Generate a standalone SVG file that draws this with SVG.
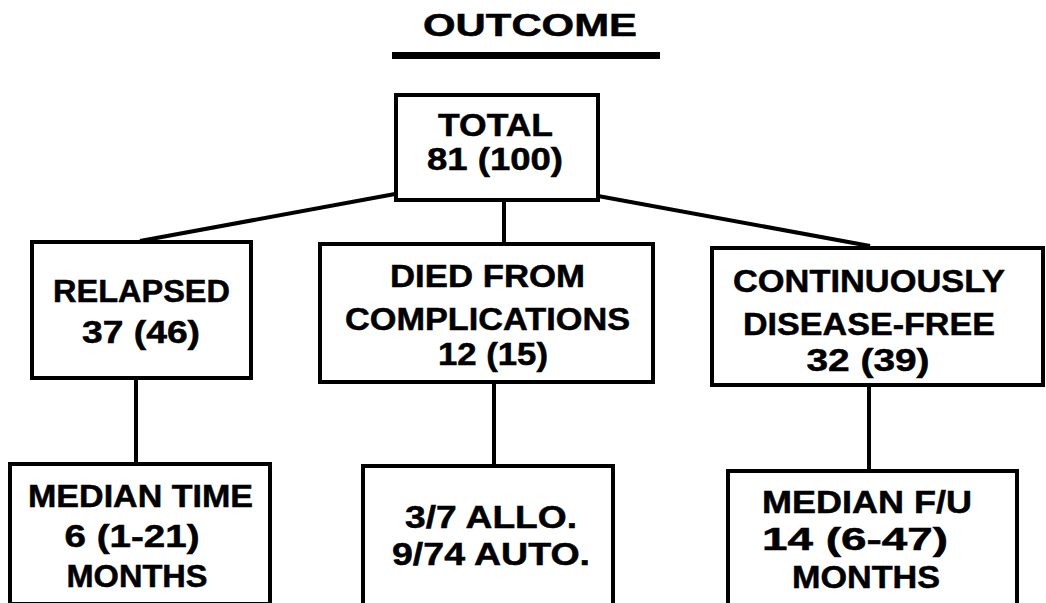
<svg xmlns="http://www.w3.org/2000/svg" width="1046" height="603" viewBox="0 0 1046 603">
<style>
.box{fill:#fff;stroke:#000;stroke-width:4}
.t{font-family:"Liberation Sans",Arial,sans-serif;font-weight:bold;font-size:31px;fill:#000;stroke:#000;stroke-width:0.5;text-anchor:middle}
.c{stroke:#000;stroke-width:4;fill:none}
</style>
<rect width="1046" height="603" fill="#fff"/>
<g id="title">
<text class="t" x="530" y="36" font-size="32" textLength="214" lengthAdjust="spacingAndGlyphs">OUTCOME</text>
<rect x="392" y="52" width="268" height="7" fill="#000"/>
</g>
<g id="connectors">
<line class="c" x1="395" y1="194" x2="140" y2="241"/>
<line class="c" x1="598" y1="196" x2="870" y2="246"/>
<line class="c" x1="504" y1="200" x2="504" y2="243"/>
<line class="c" x1="136" y1="378" x2="136" y2="463"/>
<line class="c" x1="494" y1="382" x2="494" y2="465"/>
<line class="c" x1="869" y1="385" x2="869" y2="470"/>
</g>
<g id="total">
<rect class="box" x="396" y="95" width="202" height="105"/>
<text class="t" x="495.5" y="136" textLength="115" lengthAdjust="spacingAndGlyphs">TOTAL</text>
<text class="t" x="495" y="170" textLength="136" lengthAdjust="spacingAndGlyphs">81  (100)</text>
</g>
<g id="relapsed">
<rect class="box" x="32" y="242" width="219" height="136"/>
<text class="t" x="141.5" y="302" textLength="177" lengthAdjust="spacingAndGlyphs">RELAPSED</text>
<text class="t" x="141" y="343" textLength="118" lengthAdjust="spacingAndGlyphs">37  (46)</text>
</g>
<g id="died">
<rect class="box" x="320" y="244" width="333" height="138"/>
<text class="t" x="487.5" y="287" textLength="195" lengthAdjust="spacingAndGlyphs">DIED  FROM</text>
<text class="t" x="487.5" y="330" textLength="285" lengthAdjust="spacingAndGlyphs">COMPLICATIONS</text>
<text class="t" x="493" y="365" textLength="110" lengthAdjust="spacingAndGlyphs">12  (15)</text>
</g>
<g id="cdf">
<rect class="box" x="712" y="248" width="331" height="137"/>
<text class="t" x="869" y="292" textLength="272" lengthAdjust="spacingAndGlyphs">CONTINUOUSLY</text>
<text class="t" x="869" y="335" textLength="252" lengthAdjust="spacingAndGlyphs">DISEASE-FREE</text>
<text class="t" x="868" y="371" textLength="123" lengthAdjust="spacingAndGlyphs">32  (39)</text>
</g>
<g id="median-time">
<rect class="box" x="10" y="464" width="260" height="140"/>
<text class="t" x="140.5" y="507" textLength="225" lengthAdjust="spacingAndGlyphs">MEDIAN  TIME</text>
<text class="t" x="132" y="547" textLength="135" lengthAdjust="spacingAndGlyphs">6  (1-21)</text>
<text class="t" x="137" y="587" textLength="141" lengthAdjust="spacingAndGlyphs">MONTHS</text>
</g>
<g id="allo-auto">
<rect class="box" x="363" y="466" width="250" height="140"/>
<text class="t" x="491" y="528" textLength="172" lengthAdjust="spacingAndGlyphs">3/7  ALLO.</text>
<text class="t" x="491" y="565" textLength="198" lengthAdjust="spacingAndGlyphs">9/74  AUTO.</text>
</g>
<g id="median-fu">
<rect class="box" x="728" y="471" width="289" height="140"/>
<text class="t" x="867" y="513" textLength="210" lengthAdjust="spacingAndGlyphs">MEDIAN  F/U</text>
<text class="t" x="855" y="550" textLength="186" lengthAdjust="spacingAndGlyphs">14  (6-47)</text>
<text class="t" x="866" y="588" textLength="148" lengthAdjust="spacingAndGlyphs">MONTHS</text>
</g>
</svg>
